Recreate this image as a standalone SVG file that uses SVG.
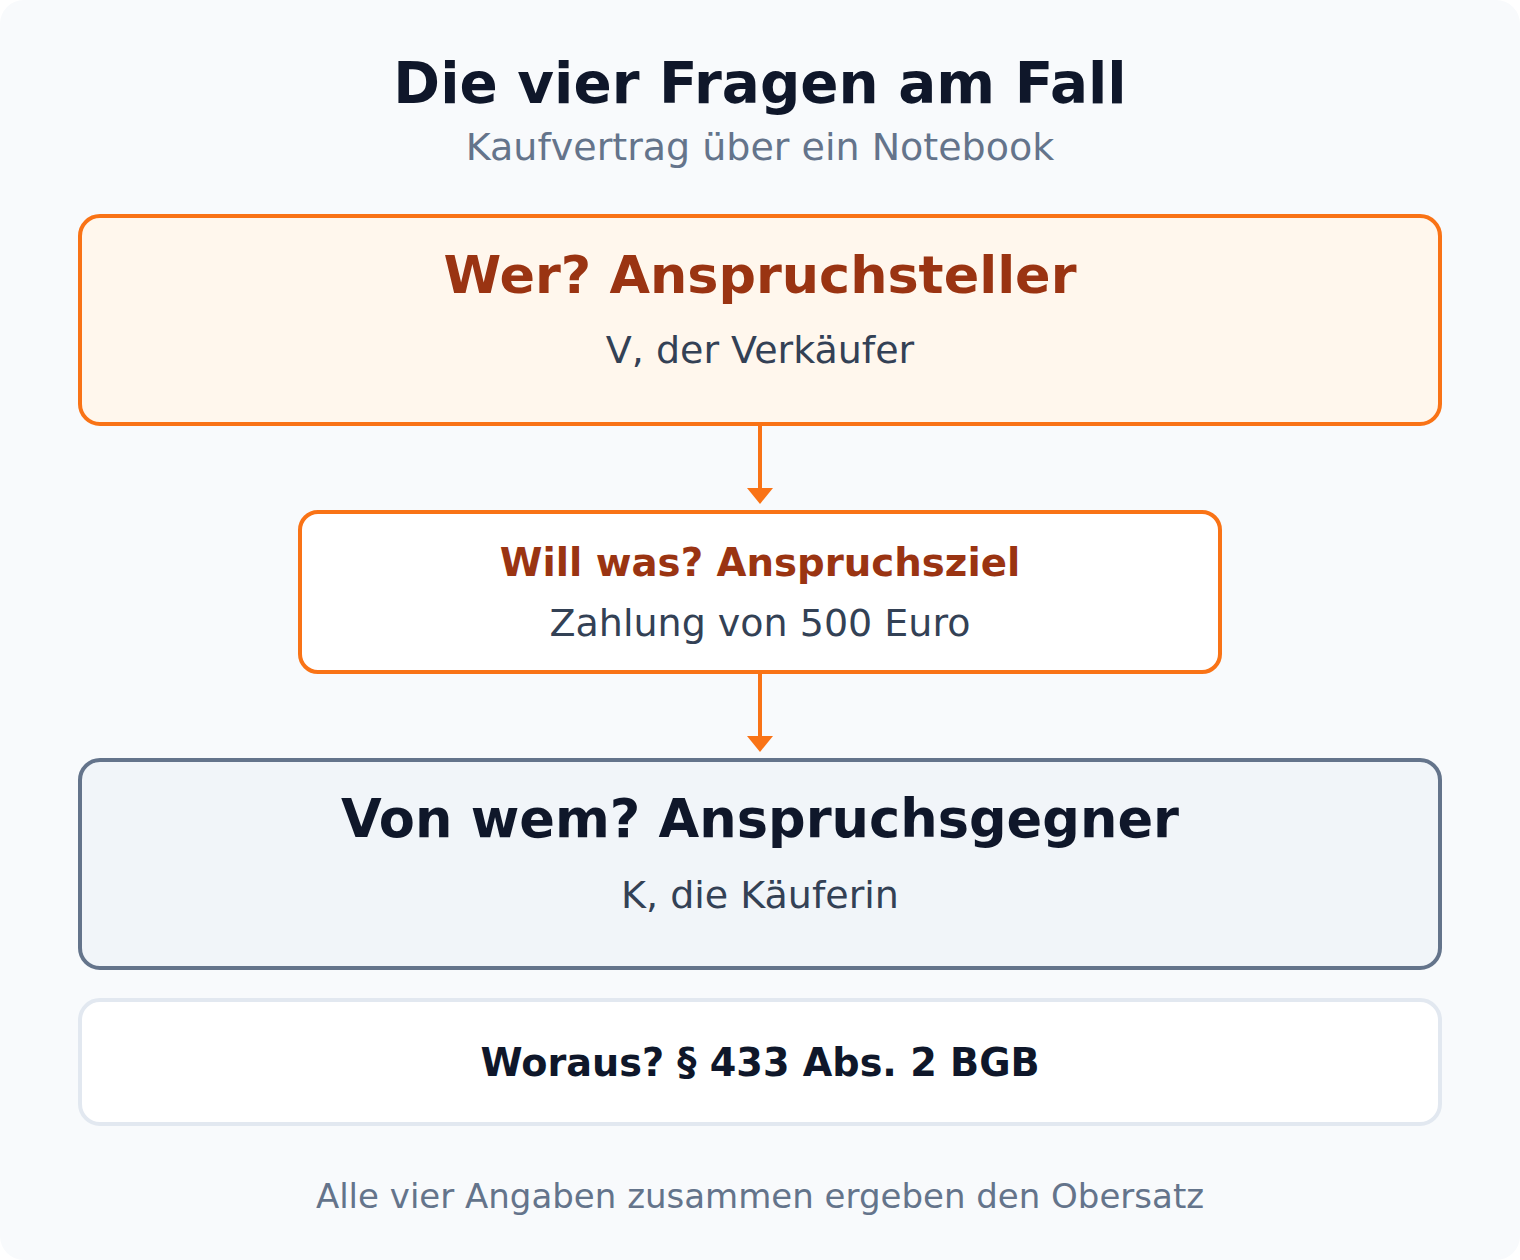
<svg xmlns="http://www.w3.org/2000/svg" width="1520" height="1260" viewBox="0 0 1520 1260">
<style>
text{font-family:"DejaVu Sans","Liberation Sans",sans-serif;text-anchor:middle}
.b{font-weight:bold}
.t{font-size:56.4px;fill:#0f172a}
.st{font-size:38px;fill:#64748b}
.h1{font-size:52.4px}
.h2{font-size:38px}
.body{font-size:38px;fill:#334155}
.or{fill:#9a3412}
.dk{fill:#0f172a}
.ft{font-size:34px;fill:#64748b}
.conn{stroke:#f97316;stroke-width:4;fill:none}
</style>
<rect x="0" y="0" width="1520" height="1260" rx="24" fill="#f8fafc"/>
<g id="title">
<text class="t b" x="760" y="103">Die vier Fragen am Fall</text>
<text class="st" x="760" y="160">Kaufvertrag über ein Notebook</text>
</g>
<g id="connectors">
<line class="conn" x1="760" y1="424" x2="760" y2="490"/>
<path d="M747,488 L773,488 L760,504 Z" fill="#f97316"/>
<line class="conn" x1="760" y1="672" x2="760" y2="738"/>
<path d="M747,736 L773,736 L760,752 Z" fill="#f97316"/>
</g>
<g id="node-wer">
<rect x="80" y="216" width="1360" height="208" rx="20" fill="#fff7ed" stroke="#f97316" stroke-width="4"/>
<text class="h1 b or" x="760" y="293">Wer? Anspruchsteller</text>
<text class="body" x="760" y="363">V, der Verkäufer</text>
</g>
<g id="node-willwas">
<rect x="300" y="512" width="920" height="160" rx="18" fill="#ffffff" stroke="#f97316" stroke-width="4"/>
<text class="h2 b or" x="760" y="576" style="font-size:38.7px">Will was? Anspruchsziel</text>
<text class="body" x="760" y="636">Zahlung von 500 Euro</text>
</g>
<g id="node-vonwem">
<rect x="80" y="760" width="1360" height="208" rx="20" fill="#f1f5f9" stroke="#64748b" stroke-width="4"/>
<text class="h1 b dk" x="760" y="837" style="font-size:52.6px">Von wem? Anspruchsgegner</text>
<text class="body" x="760" y="908">K, die Käuferin</text>
</g>
<g id="node-woraus">
<rect x="80" y="1000" width="1360" height="124" rx="20" fill="#ffffff" stroke="#e2e8f0" stroke-width="4"/>
<text class="h2 b dk" x="760" y="1076" style="font-size:38.2px">Woraus? § 433 Abs. 2 BGB</text>
</g>
<g id="footer">
<text class="ft" x="760" y="1208">Alle vier Angaben zusammen ergeben den Obersatz</text>
</g>
</svg>
